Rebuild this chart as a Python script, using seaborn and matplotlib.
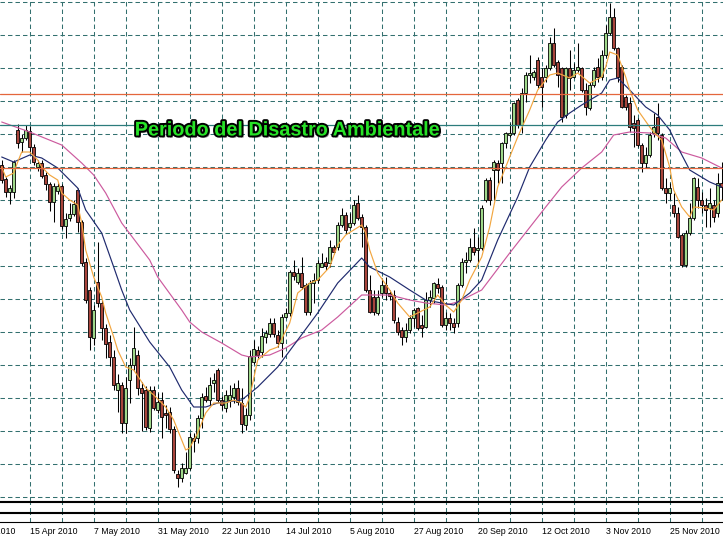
import numpy as np
import pandas as pd
import matplotlib
matplotlib.use("Agg")
import matplotlib.pyplot as plt
import matplotlib.patheffects as pe
import matplotlib.transforms as mtrans
import seaborn as sns

##### Dati: EUR/USD giornaliero, apr-dic 2010 #####

opens = [1.3475, 1.3405, 1.3340, 1.3340, 1.3650, 1.3590, 1.3610, 1.3645, 1.3565, 1.3465,
         1.3485, 1.3425, 1.3380, 1.3290, 1.3345, 1.3370, 1.3170, 1.3210, 1.3230, 1.3350,
         1.3190, 1.2990, 1.2850, 1.2610, 1.2890, 1.2785, 1.2660, 1.2590, 1.2515, 1.2350,
         1.2375, 1.2185, 1.2400, 1.2475, 1.2525, 1.2360, 1.2350, 1.2160, 1.2350, 1.2250,
         1.2300, 1.2235, 1.2240, 1.2155, 1.1930, 1.1910, 1.1935, 1.1960, 1.2110, 1.2110,
         1.2210, 1.2320, 1.2300, 1.2385, 1.2450, 1.2300, 1.2260, 1.2300, 1.2315, 1.2360,
         1.2285, 1.2175, 1.2225, 1.2490, 1.2550, 1.2540, 1.2615, 1.2630, 1.2685, 1.2625,
         1.2585, 1.2715, 1.2735, 1.2940, 1.2890, 1.2935, 1.2875, 1.2740, 1.2885, 1.2900,
         1.2965, 1.2990, 1.2985, 1.3065, 1.3065, 1.3175, 1.3225, 1.3165, 1.3185, 1.3285,
         1.3215, 1.3165, 1.2850, 1.2815, 1.2735, 1.2835, 1.2875, 1.2835, 1.2825, 1.2690,
         1.2650, 1.2615, 1.2650, 1.2710, 1.2760, 1.2675, 1.2665, 1.2800, 1.2810, 1.2880,
         1.2865, 1.2675, 1.2710, 1.2685, 1.2685, 1.2875, 1.2990, 1.3000, 1.3065, 1.3050,
         1.3060, 1.3300, 1.3400, 1.3450, 1.3485, 1.3485, 1.3585, 1.3625, 1.3635, 1.3800,
         1.3675, 1.3835, 1.3925, 1.3915, 1.4000, 1.3915, 1.3915, 1.3960, 1.4085, 1.3990,
         1.3960, 1.3725, 1.3960, 1.3915, 1.3950, 1.3960, 1.3850, 1.3760, 1.3875, 1.3965,
         1.3915, 1.4025, 1.4135, 1.4215, 1.4060, 1.3965, 1.3815, 1.3785, 1.3685, 1.3700,
         1.3575, 1.3485, 1.3525, 1.3635, 1.3715, 1.3625, 1.3360, 1.3335, 1.3275, 1.3235,
         1.3125, 1.2975, 1.3135, 1.3210, 1.3365, 1.3300, 1.3275, 1.3260, 1.3275, 1.3235, 1.3385]

highs = [1.3500, 1.3415, 1.3375, 1.3500, 1.3680, 1.3630, 1.3675, 1.3670, 1.3580, 1.3500,
         1.3500, 1.3440, 1.3390, 1.3385, 1.3385, 1.3380, 1.3235, 1.3285, 1.3300, 1.3360,
         1.3200, 1.3010, 1.2865, 1.2775, 1.3090, 1.2800, 1.2680, 1.2625, 1.2550, 1.2430,
         1.2390, 1.2415, 1.2510, 1.2665, 1.2550, 1.2390, 1.2370, 1.2370, 1.2370, 1.2335,
         1.2340, 1.2275, 1.2265, 1.2170, 1.1950, 1.1985, 1.2040, 1.2135, 1.2135, 1.2225,
         1.2335, 1.2365, 1.2415, 1.2435, 1.2460, 1.2320, 1.2350, 1.2375, 1.2385, 1.2400,
         1.2360, 1.2260, 1.2550, 1.2600, 1.2570, 1.2660, 1.2650, 1.2710, 1.2710, 1.2650,
         1.2730, 1.2760, 1.2950, 1.3000, 1.2960, 1.3015, 1.2885, 1.2900, 1.2935, 1.3000,
         1.3035, 1.3015, 1.3100, 1.3075, 1.3190, 1.3260, 1.3240, 1.3235, 1.3300, 1.3325,
         1.3230, 1.3175, 1.2925, 1.2850, 1.2850, 1.2910, 1.2915, 1.2850, 1.2850, 1.2715,
         1.2665, 1.2685, 1.2725, 1.2760, 1.2765, 1.2725, 1.2840, 1.2850, 1.2890, 1.2910,
         1.2875, 1.2740, 1.2735, 1.2710, 1.2885, 1.3010, 1.3040, 1.3110, 1.3160, 1.3115,
         1.3275, 1.3410, 1.3415, 1.3500, 1.3500, 1.3590, 1.3640, 1.3685, 1.3790, 1.3810,
         1.3860, 1.3940, 1.4025, 1.3950, 1.4015, 1.3960, 1.3975, 1.4115, 1.4160, 1.4000,
         1.3965, 1.3965, 1.4050, 1.3985, 1.4085, 1.3965, 1.3885, 1.3890, 1.3965, 1.4010,
         1.4050, 1.4175, 1.4285, 1.4260, 1.4065, 1.3975, 1.3825, 1.3815, 1.3725, 1.3710,
         1.3585, 1.3565, 1.3640, 1.3735, 1.3785, 1.3635, 1.3410, 1.3385, 1.3335, 1.3265,
         1.3135, 1.3150, 1.3285, 1.3415, 1.3410, 1.3340, 1.3310, 1.3360, 1.3300, 1.3435, 1.3490]

lows = [1.3385, 1.3315, 1.3280, 1.3310, 1.3560, 1.3540, 1.3600, 1.3535, 1.3475, 1.3445,
        1.3410, 1.3350, 1.3245, 1.3190, 1.3330, 1.3155, 1.3110, 1.3195, 1.3220, 1.3140,
        1.2970, 1.2785, 1.2550, 1.2575, 1.2765, 1.2600, 1.2510, 1.2470, 1.2350, 1.2240,
        1.2135, 1.2135, 1.2285, 1.2450, 1.2325, 1.2145, 1.2150, 1.2140, 1.2250, 1.2235,
        1.2110, 1.2160, 1.2135, 1.1935, 1.1865, 1.1890, 1.1930, 1.1950, 1.2040, 1.2085,
        1.2160, 1.2290, 1.2275, 1.2340, 1.2290, 1.2250, 1.2240, 1.2265, 1.2285, 1.2275,
        1.2135, 1.2150, 1.2200, 1.2480, 1.2510, 1.2515, 1.2585, 1.2615, 1.2615, 1.2565,
        1.2515, 1.2710, 1.2720, 1.2900, 1.2880, 1.2855, 1.2725, 1.2725, 1.2785, 1.2885,
        1.2965, 1.2950, 1.2965, 1.3030, 1.3050, 1.3165, 1.3135, 1.3160, 1.3175, 1.3200,
        1.3065, 1.2840, 1.2735, 1.2725, 1.2725, 1.2815, 1.2800, 1.2800, 1.2685, 1.2625,
        1.2575, 1.2590, 1.2635, 1.2665, 1.2650, 1.2615, 1.2660, 1.2765, 1.2785, 1.2835,
        1.2665, 1.2650, 1.2650, 1.2635, 1.2665, 1.2865, 1.2935, 1.2990, 1.3025, 1.2985,
        1.3050, 1.3290, 1.3275, 1.3300, 1.3385, 1.3385, 1.3560, 1.3615, 1.3625, 1.3660,
        1.3635, 1.3790, 1.3885, 1.3900, 1.3860, 1.3765, 1.3890, 1.3950, 1.3965, 1.3865,
        1.3690, 1.3710, 1.3850, 1.3910, 1.3940, 1.3840, 1.3725, 1.3750, 1.3865, 1.3890,
        1.3900, 1.4015, 1.4125, 1.4050, 1.3890, 1.3760, 1.3750, 1.3640, 1.3565, 1.3565,
        1.3440, 1.3460, 1.3515, 1.3615, 1.3600, 1.3350, 1.3285, 1.3300, 1.3215, 1.3110,
        1.2965, 1.2965, 1.3125, 1.3200, 1.3260, 1.3235, 1.3165, 1.3165, 1.3190, 1.3215, 1.3300]

closes = [1.3400, 1.3340, 1.3360, 1.3490, 1.3585, 1.3610, 1.3650, 1.3565, 1.3490, 1.3485,
          1.3420, 1.3380, 1.3290, 1.3370, 1.3370, 1.3170, 1.3205, 1.3230, 1.3280, 1.3190,
          1.2985, 1.2800, 1.2615, 1.2750, 1.2785, 1.2660, 1.2580, 1.2515, 1.2375, 1.2385,
          1.2185, 1.2360, 1.2475, 1.2560, 1.2360, 1.2335, 1.2165, 1.2350, 1.2260, 1.2290,
          1.2215, 1.2225, 1.2155, 1.1950, 1.1910, 1.1960, 1.1960, 1.2115, 1.2095, 1.2210,
          1.2315, 1.2300, 1.2375, 1.2400, 1.2300, 1.2275, 1.2325, 1.2325, 1.2360, 1.2290,
          1.2180, 1.2225, 1.2520, 1.2555, 1.2525, 1.2620, 1.2635, 1.2685, 1.2630, 1.2585,
          1.2715, 1.2735, 1.2940, 1.2920, 1.2935, 1.2865, 1.2740, 1.2885, 1.2900, 1.2985,
          1.2985, 1.2970, 1.3065, 1.3040, 1.3175, 1.3225, 1.3150, 1.3185, 1.3275, 1.3210,
          1.3165, 1.2850, 1.2740, 1.2740, 1.2815, 1.2875, 1.2835, 1.2820, 1.2700, 1.2640,
          1.2615, 1.2650, 1.2710, 1.2750, 1.2660, 1.2660, 1.2800, 1.2815, 1.2885, 1.2860,
          1.2675, 1.2710, 1.2685, 1.2665, 1.2875, 1.2990, 1.3000, 1.3065, 1.3040, 1.3060,
          1.3260, 1.3400, 1.3300, 1.3490, 1.3450, 1.3585, 1.3635, 1.3635, 1.3785, 1.3675,
          1.3835, 1.3925, 1.3935, 1.3940, 1.3875, 1.3865, 1.3960, 1.4085, 1.3975, 1.3925,
          1.3715, 1.3960, 1.3910, 1.3950, 1.3965, 1.3850, 1.3765, 1.3875, 1.3950, 1.3915,
          1.4025, 1.4135, 1.4215, 1.4060, 1.3915, 1.3765, 1.3765, 1.3665, 1.3660, 1.3575,
          1.3485, 1.3525, 1.3625, 1.3665, 1.3635, 1.3360, 1.3335, 1.3360, 1.3235, 1.3115,
          1.2975, 1.3135, 1.3210, 1.3410, 1.3300, 1.3275, 1.3250, 1.3285, 1.3215, 1.3385, 1.3365]

# medie mobili
fast_bars = [0, 1, 3, 4, 5, 7, 9, 10, 12, 14, 15, 17, 19, 20, 21, 23, 25, 26, 28, 29,
             31, 33, 36, 38, 41, 43, 45, 46, 47, 49, 51, 53, 56, 58, 60, 61, 62, 64, 67, 69,
             72, 74, 77, 79, 82, 84, 86, 90, 91, 92, 94, 97, 99, 102, 104, 107, 109, 111, 113, 115,
             117, 120, 122, 124, 127, 129, 132, 134, 137, 139, 142, 144, 147, 150, 151, 152, 154, 156, 157, 159,
             162, 163, 165, 167, 168, 170, 172, 173, 176, 178, 180]
fast_vals = [1.3465, 1.3415, 1.3435, 1.3490, 1.3540, 1.3540, 1.3500, 1.3465, 1.3425, 1.3400,
             1.3335, 1.3300, 1.3275, 1.3185, 1.3050, 1.2915, 1.2815, 1.2735, 1.2615, 1.2550,
             1.2465, 1.2450, 1.2360, 1.2325, 1.2265, 1.2200, 1.2100, 1.2050, 1.2060, 1.2135,
             1.2235, 1.2285, 1.2285, 1.2300, 1.2285, 1.2265, 1.2315, 1.2500, 1.2550, 1.2565,
             1.2685, 1.2835, 1.2885, 1.2900, 1.2965, 1.3075, 1.3125, 1.3175, 1.3135, 1.3050,
             1.2935, 1.2850, 1.2785, 1.2715, 1.2735, 1.2765, 1.2825, 1.2775, 1.2740, 1.2800,
             1.2900, 1.3015, 1.3165, 1.3365, 1.3515, 1.3615, 1.3750, 1.3850, 1.3925, 1.3935,
             1.3910, 1.3935, 1.3885, 1.3915, 1.3965, 1.4040, 1.4025, 1.3915, 1.3850, 1.3750,
             1.3665, 1.3640, 1.3600, 1.3465, 1.3350, 1.3265, 1.3215, 1.3265, 1.3260, 1.3250,
             1.3300]

mid_bars = [0, 3, 7, 10, 14, 19, 21, 25, 28, 30, 32, 37, 42, 45, 48, 51, 54, 60, 64, 69,
            74, 79, 84, 90, 92, 97, 102, 106, 110, 113, 117, 120, 124, 129, 132, 136, 139, 142, 145, 150,
            152, 154, 157, 161, 164, 167, 169, 172, 177, 180]
mid_vals = [1.3515, 1.3490, 1.3525, 1.3510, 1.3460, 1.3360, 1.3250, 1.3135, 1.2965, 1.2850,
            1.2750, 1.2590, 1.2465, 1.2350, 1.2265, 1.2265, 1.2285, 1.2300, 1.2365, 1.2465,
            1.2600, 1.2735, 1.2885, 1.3010, 1.2965, 1.2915, 1.2850, 1.2800, 1.2785, 1.2775,
            1.2835, 1.2900, 1.3100, 1.3315, 1.3465, 1.3600, 1.3690, 1.3735, 1.3775, 1.3835,
            1.3900, 1.3910, 1.3850, 1.3765, 1.3725, 1.3650, 1.3565, 1.3450, 1.3390, 1.3365]

slow_bars = [0, 7, 15, 20, 23, 26, 30, 37, 39, 45, 47, 50, 55, 60, 62, 67, 71, 75, 80, 84,
             90, 97, 102, 106, 111, 114, 120, 127, 136, 140, 145, 150, 153, 157, 162, 166, 170, 175, 180]
slow_vals = [1.3690, 1.3640, 1.3575, 1.3485, 1.3425, 1.3335, 1.3185, 1.3000, 1.2915, 1.2750,
             1.2690, 1.2640, 1.2585, 1.2525, 1.2515, 1.2525, 1.2560, 1.2610, 1.2650, 1.2715,
             1.2825, 1.2825, 1.2800, 1.2785, 1.2775, 1.2790, 1.2850, 1.3035, 1.3265, 1.3365,
             1.3460, 1.3540, 1.3625, 1.3640, 1.3635, 1.3610, 1.3540, 1.3510, 1.3460]

# livelli orizzontali
levels = [1.3830, 1.3675, 1.3460]
level_colors = ["#e4663c", "#2c7c7c", "#e4663c"]

# etichette dell'asse dei tempi
date_labels = ["24 Mar 2010", "15 Apr 2010", "7 May 2010", "31 May 2010", "22 Jun 2010",
               "14 Jul 2010", "5 Aug 2010", "27 Aug 2010", "20 Sep 2010", "12 Oct 2010",
               "3 Nov 2010", "25 Nov 2010"]
date_bars = [-9, 7, 23, 39, 55, 71, 87, 103, 119, 135, 151, 167]

title = "Periodo del Disastro Ambientale"

##### Grafico #####

df = pd.DataFrame({"open": opens, "high": highs, "low": lows, "close": closes})
df["bar"] = np.arange(len(df))
up = df["close"] >= df["open"]

sns.set_style("white")
plt.rcParams["font.family"] = ["Liberation Sans", "DejaVu Sans"]
plt.rcParams["lines.scale_dashes"] = False

W, H = 723, 539
fig = plt.figure(figsize=(W / 100, H / 100), dpi=100)
fig.patch.set_facecolor("white")

ax = fig.add_axes([0, 1 - 501 / H, 1, 501 / H])
ax1 = fig.add_axes([0, 1 - 511.5 / H, 1, 9.5 / H])
ax2 = fig.add_axes([0, 1 - 522 / H, 1, 9.5 / H])

grid_c = "#33706f"
dash = (0, (3.2, 2.2))
xlim = (-0.425, 180.325)
grid_x = np.arange(-1, 181, 8)

for a in (ax, ax1, ax2):
    a.set_facecolor("white")
    a.set_xlim(*xlim)
    for s in a.spines.values():
        s.set_visible(False)
    a.set_yticks([])
    a.set_xticks([])
    for gx in grid_x:
        a.axvline(gx, color=grid_c, lw=0.75, ls=dash, zorder=0)

ax.set_ylim(1.1795, 1.4300)
for gy in 1.4290 - 0.0165 * np.arange(16):
    ax.axhline(gy, color=grid_c, lw=0.75, ls=dash, zorder=0)

ax.spines["bottom"].set_visible(True)
ax.spines["bottom"].set_color("black")
ax.spines["bottom"].set_linewidth(0.8)
for a in (ax1, ax2):
    for side in ("top", "bottom"):
        a.spines[side].set_visible(True)
        a.spines[side].set_color("black")
        a.spines[side].set_linewidth(0.8)

# candele
ax.vlines(df["bar"], df["low"], df["high"], color="black", lw=0.75, zorder=3)
body_lo = np.minimum(df["open"], df["close"])
body_h = np.maximum((df["close"] - df["open"]).abs(), 0.0003)
ax.bar(df["bar"][up], body_h[up], bottom=body_lo[up], width=0.74,
       color="#9fd88a", edgecolor="black", linewidth=0.6, zorder=4)
ax.bar(df["bar"][~up], body_h[~up], bottom=body_lo[~up], width=0.74,
       color="#a8443b", edgecolor="black", linewidth=0.6, zorder=4)

# medie mobili
sns.lineplot(x=slow_bars, y=slow_vals, ax=ax, color="#cc5a9e", linewidth=0.85,
             estimator=None, sort=False, zorder=5)
sns.lineplot(x=mid_bars, y=mid_vals, ax=ax, color="#1f2a6e", linewidth=0.85,
             estimator=None, sort=False, zorder=5)
sns.lineplot(x=fast_bars, y=fast_vals, ax=ax, color="#f2a640", linewidth=0.85,
             estimator=None, sort=False, zorder=5)

for lev, col in zip(levels, level_colors):
    ax.axhline(lev, color=col, lw=0.9, zorder=6)

ax.set_xlabel("")
ax.set_ylabel("")
ax.set_xlim(*xlim)

# asse dei tempi
ax2.set_xticks(date_bars[1:])
ax2.set_xticklabels([])
ax2.tick_params(axis="x", direction="out", length=2.3, width=0.7, color="black")
lab_tr = mtrans.blended_transform_factory(ax2.transData, ax2.transAxes)
for b, lab in zip(date_bars, date_labels):
    ax2.text(b + 0.1, -0.95, lab, transform=lab_tr, ha="left", va="center",
             fontsize=6.3, color="black", clip_on=False)

# titolo
fig.text(287.5 / W, 1 - 130 / H, title, ha="center", va="center",
         fontsize=14.3, fontweight="bold", color="#27e227",
         path_effects=[pe.SimplePatchShadow(offset=(1.5, -1.5), shadow_rgbFace="black", alpha=0.45),
                       pe.Stroke(linewidth=2.8, foreground="black"),
                       pe.Normal()])

fig.savefig("out.png", dpi=100, facecolor="white")
